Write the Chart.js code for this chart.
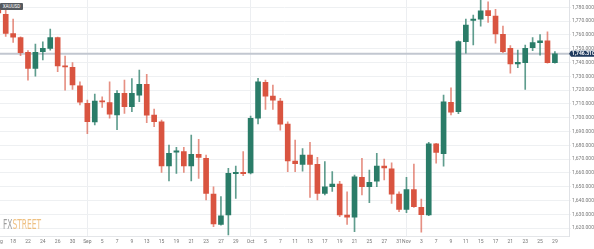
<!DOCTYPE html>
<html>
<head>
<meta charset="utf-8">
<title>XAU/USD daily</title>
<script src="https://cdn.jsdelivr.net/npm/chart.js@4/dist/chart.umd.min.js"></script>
<style>
  html, body { margin: 0; padding: 0; background: #fff; }
  #wrap { position: relative; width: 594px; height: 249px; overflow: hidden; }
  #symbol {
    position: absolute; left: 0; top: 3px; width: 23px; height: 7px;
    background: #555a5f; color: #fff; font: 4.6px Roboto, sans-serif;
    line-height: 7px; text-align: center; border-radius: 1px;
  }
  #logo {
    position: absolute; left: 3px; top: 216px; white-space: nowrap;
    font: 14px "Liberation Sans Narrow", "DejaVu Sans Condensed", sans-serif;
    transform-origin: 0 0; opacity: 0.85;
  }
  #logo .fx { color: #8c8c8c; }
  #logo .st { color: #ecb56c; }
</style>
</head>
<body>
<div id="wrap">
  <canvas id="chart" width="594" height="249"></canvas>
  <div id="symbol">XAUUSD</div>
  <div id="logo"><span class="fx">FX</span><span class="st">STREET</span></div>
</div>
<script>
// daily candles, 16 Aug - 29 Nov
const days = [
  "Aug 16", "Aug 17", "Aug 18", "Aug 19", "Aug 22", "Aug 23", "Aug 24", "Aug 25", "Aug 26", "Aug 29", "Aug 30", "Aug 31",
  "Sep 1", "Sep 2", "Sep 5", "Sep 6", "Sep 7", "Sep 8", "Sep 9", "Sep 12", "Sep 13", "Sep 14", "Sep 15", "Sep 16",
  "Sep 19", "Sep 20", "Sep 21", "Sep 22", "Sep 23", "Sep 26", "Sep 27", "Sep 28", "Sep 29", "Sep 30",
  "Oct 3", "Oct 4", "Oct 5", "Oct 6", "Oct 7", "Oct 10", "Oct 11", "Oct 12", "Oct 13", "Oct 14", "Oct 17", "Oct 18",
  "Oct 19", "Oct 20", "Oct 21", "Oct 24", "Oct 25", "Oct 26", "Oct 27", "Oct 28", "Oct 31",
  "Nov 1", "Nov 2", "Nov 3", "Nov 4", "Nov 7", "Nov 8", "Nov 9", "Nov 10", "Nov 11", "Nov 14", "Nov 15", "Nov 16",
  "Nov 17", "Nov 18", "Nov 21", "Nov 22", "Nov 23", "Nov 24", "Nov 25", "Nov 28", "Nov 29"
];

const open = [
  1779, 1775, 1761, 1758, 1747.4, 1735.8, 1747.8, 1750.3, 1758, 1737.5, 1736.5, 1723.2,
  1710.4, 1697, 1712.3, 1711, 1702, 1717.7, 1708, 1716.4, 1724.2, 1702, 1697, 1665,
  1675, 1675.4, 1665, 1673.5, 1670.5, 1644.7, 1622.7, 1629.5, 1659.5, 1660.5,
  1660, 1699.6, 1725.7, 1715.7, 1712, 1695.4, 1668.6, 1666.2, 1673, 1666.2, 1645.2, 1650,
  1652, 1629.5, 1628, 1656.8, 1650, 1654, 1664.9, 1663, 1644.7,
  1633.6, 1648, 1635, 1629.5, 1681, 1674, 1711.2, 1704.3, 1755.1, 1770.5, 1771.5, 1777.6,
  1773.7, 1760.4, 1750.3, 1738.9, 1739.9, 1750.7, 1754.4, 1755.8, 1739.9
];
const high = [
  1783, 1779, 1771.5, 1758.7, 1748.6, 1753.4, 1755, 1764.3, 1758.5, 1744.7, 1740, 1726,
  1712.8, 1717.2, 1715.2, 1726, 1719.6, 1727.3, 1728.4, 1734.6, 1731.4, 1706.3, 1698.3, 1680.2,
  1678.6, 1678.6, 1687.5, 1684.3, 1673, 1650, 1642.8, 1663.3, 1665, 1675.4,
  1701.2, 1728.6, 1727.3, 1723.7, 1714, 1697, 1683.8, 1677.6, 1682.2, 1671.3, 1668.3, 1660.9,
  1654, 1646.3, 1658.5, 1670.6, 1662, 1674.2, 1670, 1667.4, 1646.3,
  1656.8, 1666.5, 1641, 1682.2, 1681.5, 1716.4, 1721.7, 1755.8, 1771.5, 1774.4, 1787, 1784,
  1778.5, 1766.4, 1752.2, 1749, 1752.7, 1758, 1760.3, 1762.3, 1748
];
const low = [
  1771, 1759, 1754.6, 1745, 1727.3, 1730.2, 1741.8, 1749, 1733.3, 1720, 1720.6, 1709.2,
  1688.4, 1694.7, 1707.5, 1699.6, 1691.4, 1703.2, 1704.3, 1711.6, 1696.4, 1693.5, 1660.3, 1654.3,
  1659.7, 1660.3, 1654.3, 1656.1, 1640.4, 1621, 1622.2, 1615, 1641.6, 1658,
  1659.3, 1695.5, 1706, 1706, 1691, 1661, 1661, 1661.3, 1642.3, 1640.4, 1644, 1646.6,
  1628.3, 1622.7, 1617.4, 1644, 1638.4, 1650, 1654.9, 1638, 1631.9,
  1631.2, 1635, 1617, 1629, 1667, 1664.9, 1702, 1703, 1746.7, 1752.7, 1766.4, 1769,
  1754, 1747.1, 1732.2, 1736.2, 1720.6, 1748.6, 1745.4, 1739.5, 1739.5
];
const close = [
  1776, 1761, 1758.3, 1747.1, 1735.8, 1747.4, 1750.3, 1758, 1737.5, 1736.8, 1723.7, 1711.2,
  1697.1, 1712, 1711.5, 1702.5, 1717.7, 1708, 1717.7, 1724.2, 1701.9, 1697.1, 1665, 1674.2,
  1676, 1665, 1673.5, 1671.3, 1645.2, 1623, 1629, 1659.7, 1660.4, 1659.5,
  1699.6, 1726.1, 1715.7, 1712.8, 1695.4, 1668.7, 1666.7, 1673, 1666.2, 1645.2, 1650, 1652,
  1629.5, 1628, 1657.2, 1650, 1653.2, 1664.9, 1663.7, 1644.7, 1633.6,
  1648, 1635.5, 1629.7, 1681, 1674.9, 1711.6, 1704, 1755.1, 1767.2, 1771.5, 1777.5, 1773.9,
  1760.7, 1747.8, 1738.9, 1740.1, 1750.3, 1754.4, 1755.8, 1739.9, 1746.31
];

// x axis labels (index into days) and y axis ticks
const tickIdx = [0, 2, 4, 6, 8, 10, 12, 14, 16, 18, 20, 22, 24, 26, 28, 30, 32, 34, 36, 38, 40, 42, 44, 46, 48, 50, 52, 54,
  55, 57, 59, 61, 63, 65, 67, 69, 71, 73, 75];
const tickText = ["Aug", "18", "22", "24", "26", "30", "Sep", "5", "7", "9", "13", "15", "19", "21", "23", "27", "29",
  "Oct", "5", "7", "11", "13", "17", "19", "21", "25", "27", "31", "Nov", "3", "7", "9", "11", "15", "17", "21", "23", "25", "29"];
const monthIdx = [12, 34, 55];
const yTicks = [1620, 1630, 1640, 1650, 1660, 1670, 1680, 1690, 1700, 1710, 1720, 1730, 1740, 1750, 1760, 1770, 1780];

const UP = "#2a7c68";
const DOWN = "#d95440";
const UP_WICK = "rgba(42,124,104,0.75)";
const DOWN_WICK = "rgba(217,84,64,0.65)";

const fmt = (v) => v.toLocaleString("en-US", { minimumFractionDigits: 4, maximumFractionDigits: 4 });
const isUp = (i) => close[i] >= open[i];

Chart.defaults.font.family = "Roboto, sans-serif";

// last price: grey line behind the candles, navy tag on the axis
const priceLine = {
  id: "priceLine",
  beforeDatasetsDraw(chart) {
    const { ctx, chartArea, scales } = chart;
    const y = scales.y.getPixelForValue(close[close.length - 1]);
    ctx.save();
    ctx.strokeStyle = "#c2c7d0";
    ctx.lineWidth = 2;
    ctx.beginPath();
    ctx.moveTo(chartArea.left, y);
    ctx.lineTo(chartArea.right, y);
    ctx.stroke();
    ctx.restore();
  },
  afterDraw(chart) {
    const { ctx, chartArea, scales } = chart;
    const last = close[close.length - 1];
    const y = scales.y.getPixelForValue(last);
    const x = chartArea.right;
    ctx.save();
    ctx.fillStyle = "#1f3a5e";
    ctx.beginPath();
    ctx.moveTo(x, y);
    ctx.lineTo(x + 2, y - 3);
    ctx.lineTo(chart.width, y - 3);
    ctx.lineTo(chart.width, y + 3);
    ctx.lineTo(x + 2, y + 3);
    ctx.closePath();
    ctx.fill();
    ctx.fillStyle = "#fff";
    ctx.font = "bold 5px Roboto, sans-serif";
    ctx.textBaseline = "middle";
    ctx.fillText(fmt(last), x + 3, y + 0.3);
    ctx.restore();
  }
};

new Chart(document.getElementById("chart"), {
  type: "bar",
  data: {
    datasets: [
      {
        label: "body",
        data: days.map((d, i) => ({ x: i, y: [open[i], close[i]] })),
        backgroundColor: (ctx) => (isUp(ctx.dataIndex) ? UP : DOWN),
        barThickness: 5,
        minBarLength: 1,
        grouped: false,
        order: 0,
      },
      {
        label: "wick",
        data: days.map((d, i) => ({ x: i, y: [low[i], high[i]] })),
        backgroundColor: (ctx) => (isUp(ctx.dataIndex) ? UP_WICK : DOWN_WICK),
        barThickness: 1,
        grouped: false,
        order: 1,
      },
    ],
  },
  options: {
    responsive: false,
    animation: false,
    layout: { padding: 0, autoPadding: false },
    plugins: {
      legend: { display: false },
      tooltip: { enabled: false },
    },
    scales: {
      x: {
        type: "linear",
        offset: false,
        min: 0.23,
        max: 76.9,
        afterBuildTicks: (s) => { s.ticks = tickIdx.map((v) => ({ value: v })); },
        afterFit: (s) => { s.paddingLeft = 0; s.paddingRight = 0; s.height = 12.3; },
        ticks: {
          autoSkip: false,
          maxRotation: 0,
          padding: 2,
          color: "#777",
          font: { size: 5 },
          callback: (v, i) => tickText[i],
        },
        grid: {
          offset: false,
          drawTicks: false,
          color: (ctx) => (ctx.tick && monthIdx.includes(ctx.tick.value) ? "#eceef1" : "rgba(0,0,0,0)"),
        },
        border: { color: "#e4e6e9" },
      },
      y: {
        position: "right",
        min: 1613.8,
        max: 1785.3,
        afterBuildTicks: (s) => { s.ticks = yTicks.map((v) => ({ value: v })); },
        afterFit: (s) => { s.width = 25; s.paddingTop = 0; s.paddingBottom = 0; },
        ticks: {
          padding: 1,
          color: "#7a7a7a",
          font: { size: 5 },
          callback: (v) => fmt(v),
        },
        grid: { color: "#eef0f2", tickLength: 2 },
        border: { color: "#e0e2e6" },
      },
    },
  },
  plugins: [priceLine],
});

const logo = document.getElementById("logo");
logo.style.transform = "scaleX(" + (38 / logo.offsetWidth) + ")";
</script>
</body>
</html>
